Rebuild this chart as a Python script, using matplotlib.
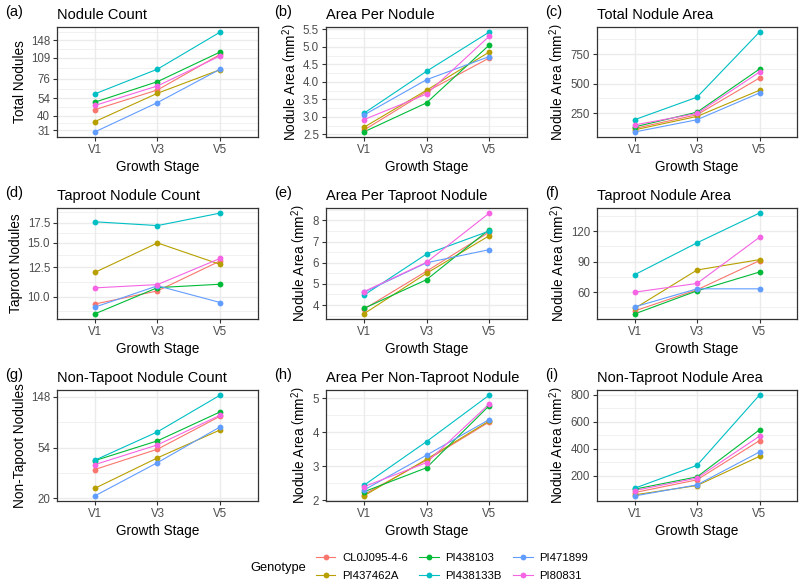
import numpy as np
import matplotlib
matplotlib.use("Agg")
import matplotlib.pyplot as plt
from matplotlib.lines import Line2D

plt.rcParams['font.family'] = ['Liberation Sans', 'DejaVu Sans']
plt.rcParams['mathtext.fontset'] = 'custom'
plt.rcParams['mathtext.rm'] = 'Liberation Sans'
plt.rcParams['mathtext.it'] = 'Liberation Sans:italic'
plt.rcParams['mathtext.bf'] = 'Liberation Sans:bold'

stages = ["V1", "V3", "V5"]
genotypes = ["CL0J095-4-6", "PI437462A", "PI438103", "PI438133B", "PI471899", "PI80831"]
colors = ["#F8766D", "#B79F00", "#00BA38", "#00BFC4", "#619CFF", "#F564E3"]

# (a) Nodule count (log scale)
nodule_count = [[44.3, 62.5, 116], [36, 59, 89], [50.5, 72.2, 121],
                [58.3, 89.7, 171], [30.1, 50.2, 89.7], [47.7, 67, 113]]
# (b) area per nodule
area_per_nodule = [[2.62, 3.72, 4.68], [2.70, 3.76, 4.85], [2.57, 3.40, 5.05],
                   [3.10, 4.30, 5.42], [3.05, 4.06, 4.72], [2.92, 3.65, 5.30]]
# (c) total nodule area
total_area = [[120, 236, 548], [108, 222, 444], [133, 258, 624],
              [194, 385, 938], [90, 194, 421], [150, 247, 598]]
# (d) taproot nodule count (log scale)
taproot_count = [[9.45, 10.44, 13.1], [12.0, 15.0, 12.75], [8.77, 10.7, 10.98],
                 [17.6, 17.1, 18.8], [9.23, 10.85, 9.56], [10.68, 10.95, 13.35]]
# (e) area per taproot nodule
area_per_taproot = [[3.80, 5.60, 7.45], [3.58, 5.50, 7.28], [3.84, 5.20, 7.57],
                    [4.46, 6.41, 7.50], [4.60, 6.00, 6.62], [4.63, 6.02, 8.35]]
# (f) taproot nodule area
taproot_area = [[41.5, 62.3, 91], [44, 81.8, 92], [38.6, 61.3, 79.8],
                [77.1, 108.5, 137.8], [45.5, 63.3, 63.3], [60, 68.6, 114]]
# (g) non-taproot nodule count (log scale)
nontap_count = [[35.5, 53, 101.7], [24.5, 44.7, 77.6], [42.3, 62.5, 110.7],
                [42.6, 74.6, 154], [21.1, 40.7, 82.4], [39.1, 57.7, 103.7]]
# (h) area per non-taproot nodule
area_per_nontap = [[2.16, 3.17, 4.30], [2.12, 3.20, 4.33], [2.24, 2.95, 4.78],
                   [2.43, 3.72, 5.09], [2.29, 3.32, 4.37], [2.39, 3.10, 4.83]]
# (i) non-taproot nodule area
nontap_area = [[76, 170, 460], [59, 128, 344], [101, 192, 540],
               [108, 277, 797], [51, 133, 376], [91, 183, 493]]

area_lab = r"Nodule Area $\left(\mathrm{mm}^{2}\right)$"
panels = [
    ("(a)", "Nodule Count", "Total Nodules", nodule_count, True,
     [31, 40, 54, 76, 109, 148], ["31", "40", "54", "76", "109", "148"]),
    ("(b)", "Area Per Nodule", area_lab, area_per_nodule, False,
     [2.5, 3.0, 3.5, 4.0, 4.5, 5.0, 5.5], ["2.5", "3.0", "3.5", "4.0", "4.5", "5.0", "5.5"]),
    ("(c)", "Total Nodule Area", area_lab, total_area, False,
     [250, 500, 750], ["250", "500", "750"]),
    ("(d)", "Taproot Nodule Count", "Taproot Nodules", taproot_count, True,
     [10.0, 12.5, 15.0, 17.5], ["10.0", "12.5", "15.0", "17.5"]),
    ("(e)", "Area Per Taproot Nodule", area_lab, area_per_taproot, False,
     [4, 5, 6, 7, 8], ["4", "5", "6", "7", "8"]),
    ("(f)", "Taproot Nodule Area", area_lab, taproot_area, False,
     [60, 90, 120], ["60", "90", "120"]),
    ("(g)", "Non-Tapoot Nodule Count", "Non-Tapoot Nodules", nontap_count, True,
     [20.09, 54.6, 148.4], ["20", "54", "148"]),
    ("(h)", "Area Per Non-Taproot Nodule", area_lab, area_per_nontap, False,
     [2, 3, 4, 5], ["2", "3", "4", "5"]),
    ("(i)", "Non-Taproot Nodule Area", area_lab, nontap_area, False,
     [200, 400, 600, 800], ["200", "400", "600", "800"]),
]

W, H = 800, 588
fig = plt.figure(figsize=(8, 5.88), dpi=100)

col_x = [(57, 258), (326, 527), (597, 797)]
row_y = [(27, 137), (208, 319), (390, 501)]

grey30 = "#4D4D4D"
grey20 = "#333333"

for idx, (tag, title, ylab, data, logy, ticks, ticklabs) in enumerate(panels):
    r, c = divmod(idx, 3)
    x0, x1 = col_x[c]
    y0, y1 = row_y[r]
    ax = fig.add_axes([x0 / W, 1 - y1 / H, (x1 - x0) / W, (y1 - y0) / H])
    xs = np.arange(len(stages))
    for g, col in enumerate(colors):
        ax.plot(xs, data[g], color=col, lw=0.8, zorder=3)
    for g, col in enumerate(colors):
        ax.plot(xs, data[g], 'o', color=col, ms=4.2, mec='none', zorder=4)
    if logy:
        ax.set_yscale('log')
    ax.set_xlim(-0.6, 2.6)
    # y limits: 5% expansion in transformed space
    allv = np.array(data, dtype=float)
    if logy:
        lo, hi = np.log(allv.min()), np.log(allv.max())
        pad = 0.05 * (hi - lo)
        ax.set_ylim(np.exp(lo - pad), np.exp(hi + pad))
    else:
        lo, hi = allv.min(), allv.max()
        pad = 0.05 * (hi - lo)
        ax.set_ylim(lo - pad, hi + pad)
    ymin, ymax = ax.get_ylim()
    ax.set_xticks(xs)
    ax.set_xticklabels(stages)
    ax.set_yticks(ticks)
    ax.set_yticklabels(ticklabs)
    ax.minorticks_off()
    # gridlines
    tr = np.log if logy else (lambda v: np.asarray(v, dtype=float))
    inv = np.exp if logy else (lambda v: v)
    tt = tr(np.array(ticks, dtype=float))
    d = np.diff(tt)
    mids = list((tt[:-1] + tt[1:]) / 2)
    mids.append(tt[0] - d[0] / 2)
    mids.append(tt[-1] + d[-1] / 2)
    for m in mids:
        v = inv(m)
        if ymin <= v <= ymax:
            ax.axhline(v, color="#EBEBEB", lw=0.5, zorder=1)
    for t in ticks:
        ax.axhline(t, color="#EBEBEB", lw=1.0, zorder=1.5)
    for x in xs:
        ax.axvline(x, color="#EBEBEB", lw=1.0, zorder=1.5)
    ax.set_ylim(ymin, ymax)
    for s in ax.spines.values():
        s.set_color(grey20)
        s.set_linewidth(0.9)
        s.set_zorder(5)
    ax.tick_params(axis='both', colors=grey20, labelcolor=grey30, labelsize=8.3,
                   length=3, width=0.8, pad=2)
    ax.set_xlabel("Growth Stage", fontsize=9.8, color='black', labelpad=3)
    ax.set_ylabel(ylab, fontsize=9.8, color='black', labelpad=3)
    ax.set_title(title, loc='left', fontsize=10.5, color='black', pad=6)
    fig.text((x0 - 52) / W, 1 - (y0 - 15) / H, tag, fontsize=10.5,
             ha='left', va='center')

# legend
handles = [Line2D([0], [0], color=col, lw=0.8, marker='o', ms=4.2, mec='none')
           for col in colors]
fig.text(250 / W, 1 - 568 / H, "Genotype", fontsize=9.3, ha='left', va='center')
fig.legend(handles, genotypes, ncol=3, loc='center left',
           bbox_to_anchor=(308 / W, 1 - 567 / H), frameon=False,
           fontsize=8.2, handlelength=1.7, handletextpad=0.6,
           columnspacing=1.0, labelspacing=0.75, borderpad=0.2)

fig.savefig("out.png", dpi=100)
